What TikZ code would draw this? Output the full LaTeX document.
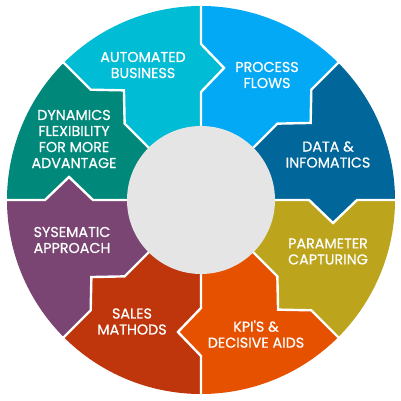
\documentclass[tikz,border=0pt]{standalone}
\usepackage{fontspec}
\setmainfont{Poppins}
\newfontfamily\labelfont{Poppins}[UprightFeatures={FakeBold=0.6}]
\definecolor{cAuto}{HTML}{00BCD4}
\definecolor{cProc}{HTML}{03A9F4}
\definecolor{cData}{HTML}{016699}
\definecolor{cPara}{HTML}{BCA51D}
\definecolor{cKpi}{HTML}{E65100}
\definecolor{cSales}{HTML}{BF360C}
\definecolor{cSys}{HTML}{7B4573}
\definecolor{cDyn}{HTML}{00897B}
\definecolor{cCenter}{HTML}{E5E5E5}
\begin{document}
\begin{tikzpicture}[x=1pt,y=1pt,
  seglabel/.style={text=white, align=center, inner sep=0pt, font=\labelfont\fontsize{14.3}{16}\selectfont},
  gap/.style={draw=white, line width=2.4pt, line join=miter}]
\useasboundingbox (0,0) rectangle (400,401);
\begin{scope}[shift={(201,201)}]
\foreach \a/\c in {90/cAuto, 45/cProc, 0/cData, -45/cPara, -90/cKpi, -135/cSales, 180/cSys, 135/cDyn} {
  \pgfmathsetmacro\b{\a+45}
  \pgfmathsetmacro\ta{\a-9.9}
  \pgfmathsetmacro\tb{\b-9.9}
  \fill[\c] (\b:194) arc[start angle=\b, end angle=\a, radius=194] -- (\a:156) -- (\ta:134) -- (\a:108) -- (\a:50) -- (\b:50) -- (\b:108) -- (\tb:134) -- (\b:156) -- cycle;
}
\foreach \a in {0,45,...,315} {
  \draw[gap] (\a:198) -- (\a:156) -- ({\a-9.9}:134) -- (\a:108) -- (\a:70);
}
\fill[cCenter] (0,0) circle[radius=74];
\end{scope}
\node[seglabel] (tAuto) at (143,336) {AUTOMATED\\BUSINESS};
\node[seglabel] (tProc) at (267,326) {PROCESS\\FLOWS};
\node[seglabel] (tData) at (328,246.5) {DATA \&\\INFOMATICS};
\node[seglabel] (tPara) at (328,149.5) {PARAMETER\\CAPTURING};
\node[seglabel] (tKpi) at (256,67) {KPI'S \&\\DECISIVE AIDS};
\node[seglabel] (tSales) at (132,79.5) {SALES\\MATHODS};
\node[seglabel] (tSys) at (72,161) {SYSEMATIC\\APPROACH};
\node[seglabel] (tDyn) at (74,262) {DYNAMICS\\FLEXIBILITY\\FOR MORE\\ADVANTAGE};
\end{tikzpicture}
\end{document}
